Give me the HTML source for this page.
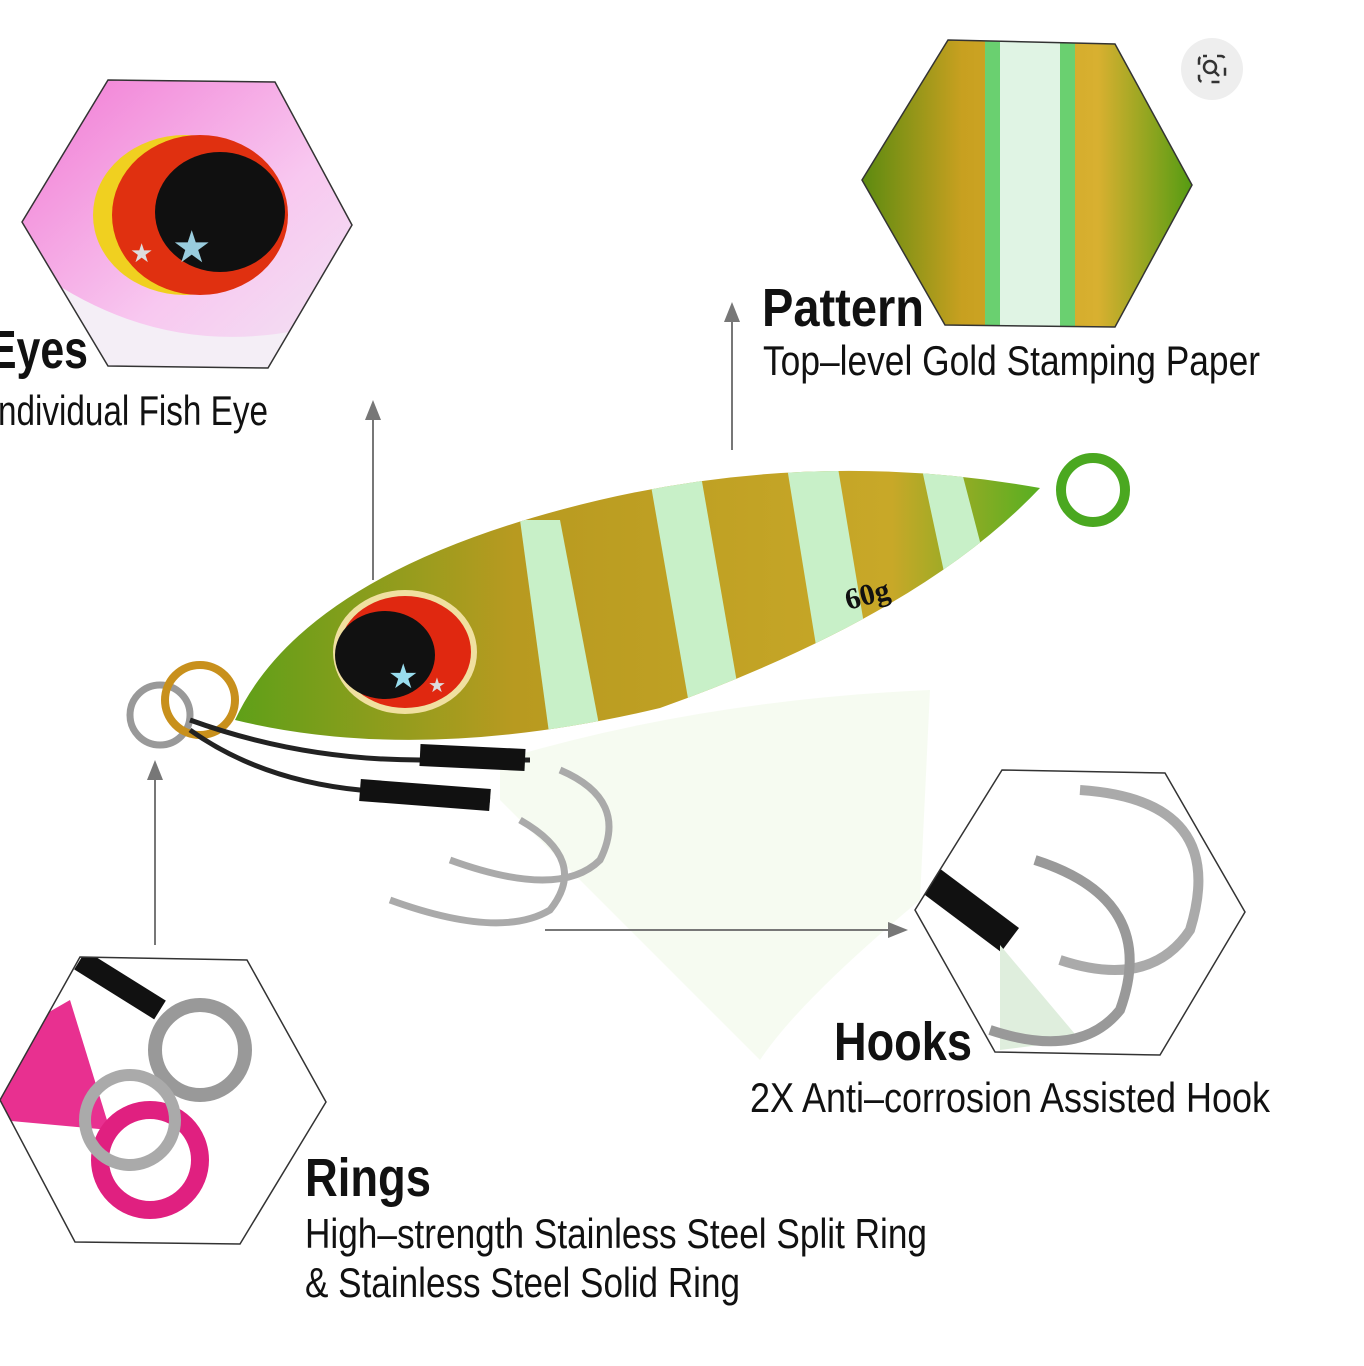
<!DOCTYPE html>
<html><head><meta charset="utf-8"><style>
html,body{margin:0;padding:0;background:#fff;}
svg{display:block;}
text{font-family:"Liberation Sans",sans-serif;fill:#111;}
</style></head><body>
<svg width="1364" height="1366" viewBox="0 0 1364 1366" xmlns="http://www.w3.org/2000/svg">
<defs>
<linearGradient id="gold" x1="0" y1="0" x2="1" y2="0">
<stop offset="0" stop-color="#5a8a10"/><stop offset="0.3" stop-color="#c8a020"/><stop offset="0.7" stop-color="#d8b030"/><stop offset="1" stop-color="#4a9a10"/></linearGradient>
<linearGradient id="body" x1="0" y1="0" x2="1" y2="0">
<stop offset="0" stop-color="#5aa018"/><stop offset="0.35" stop-color="#b89a20"/><stop offset="0.8" stop-color="#c8a828"/><stop offset="1" stop-color="#48b020"/></linearGradient>
<linearGradient id="pink" x1="0" y1="0" x2="1" y2="1">
<stop offset="0" stop-color="#f070d0"/><stop offset="0.6" stop-color="#f8c8f0"/><stop offset="1" stop-color="#f0e8f4"/></linearGradient>
<clipPath id="c1"><polygon points="108,80 275,82 352,225 268,368 108,366 22,222"/></clipPath>
<clipPath id="c2"><polygon points="948,40 1115,44 1192,185 1115,327 945,325 862,180"/></clipPath>
<clipPath id="c3"><polygon points="1002,770 1165,773 1245,912 1160,1055 995,1052 915,910"/></clipPath>
<clipPath id="c4"><polygon points="80,957 247,960 326,1102 240,1244 75,1242 0,1100"/></clipPath>
<clipPath id="cb"><path d="M235 720 Q300 580 560 510 Q800 445 1040 488 Q920 615 660 708 Q420 765 235 720Z"/></clipPath>
<marker id="ah" markerWidth="10" markerHeight="10" refX="5" refY="5" orient="auto"><path d="M0,1 L10,5 L0,9 Z" fill="#777"/></marker>
</defs>

<g clip-path="url(#c1)">
<rect x="0" y="60" width="360" height="320" fill="url(#pink)"/>
<path d="M22 260 Q150 360 300 330 L352 370 L0 370Z" fill="#f4eef6"/>
<ellipse cx="185" cy="215" rx="92" ry="80" fill="#f0d020"/>
<ellipse cx="200" cy="215" rx="88" ry="80" fill="#e03010"/>
<ellipse cx="220" cy="212" rx="65" ry="60" fill="#101010"/>
<text x="172" y="262" font-size="44" style="fill:#9cd">★</text>
<text x="130" y="262" font-size="26" style="fill:#ddd">★</text>
</g>
<polygon points="108,80 275,82 352,225 268,368 108,366 22,222" fill="none" stroke="#333" stroke-width="1.5"/>

<g clip-path="url(#c2)">
<rect x="860" y="30" width="340" height="300" fill="url(#gold)"/>
<rect x="985" y="30" width="90" height="300" fill="#6ad070"/>
<rect x="1000" y="30" width="60" height="300" fill="#e0f4e4"/>
</g>
<polygon points="948,40 1115,44 1192,185 1115,327 945,325 862,180" fill="none" stroke="#333" stroke-width="1.5"/>

<g clip-path="url(#c3)">
<rect x="900" y="760" width="360" height="300" fill="#fff"/>
<path d="M930 880 L1010 940" stroke="#111" stroke-width="30"/>
<path d="M1000 945 L1080 1040 L1000 1050Z" fill="#dfeedd"/>
<path d="M1080 790 Q1230 800 1190 930 Q1150 990 1060 960" fill="none" stroke="#aaa" stroke-width="10"/>
<path d="M1035 860 Q1160 900 1120 1010 Q1080 1060 990 1030" fill="none" stroke="#999" stroke-width="10"/>
</g>
<polygon points="1002,770 1165,773 1245,912 1160,1055 995,1052 915,910" fill="none" stroke="#333" stroke-width="1.5"/>

<g clip-path="url(#c4)">
<rect x="0" y="950" width="330" height="300" fill="#fff"/>
<path d="M0 1040 L70 1000 L110 1130 L0 1120Z" fill="#e83090"/>
<path d="M80 960 L160 1010" stroke="#111" stroke-width="22"/>
<circle cx="200" cy="1050" r="45" fill="none" stroke="#999" stroke-width="14"/>
<circle cx="150" cy="1160" r="50" fill="none" stroke="#e02080" stroke-width="18"/>
<circle cx="130" cy="1120" r="45" fill="none" stroke="#aaa" stroke-width="12"/>
</g>
<polygon points="80,957 247,960 326,1102 240,1244 75,1242 0,1100" fill="none" stroke="#333" stroke-width="1.5"/>

<circle cx="1212" cy="69" r="31" fill="#eee"/>
<rect x="1199" y="56" width="26" height="26" rx="4" fill="none" stroke="#333" stroke-width="2.5" stroke-dasharray="8 10" stroke-dashoffset="4"/>
<circle cx="1210" cy="67" r="6" fill="none" stroke="#333" stroke-width="2.5"/>
<line x1="1214" y1="71" x2="1219" y2="76" stroke="#333" stroke-width="2.5"/>

<path d="M500 760 Q700 700 930 690 L920 900 Q800 1000 760 1060 Q600 900 500 800Z" fill="#eef8e6" opacity="0.55"/>

<g clip-path="url(#cb)">
<rect x="220" y="430" width="840" height="340" fill="url(#body)"/>
<path d="M520 520 L560 520 L600 730 L550 740Z" fill="#c8f0c8"/>
<path d="M650 480 L700 470 L740 700 L690 710Z" fill="#c8f0c8"/>
<path d="M785 455 L835 450 L870 660 L820 670Z" fill="#c8f0c8"/>
<path d="M920 460 L960 465 L990 580 L950 600Z" fill="#c8f0c8"/>
</g>
<circle cx="1093" cy="490" r="32" fill="none" stroke="#4aa820" stroke-width="10"/>
<ellipse cx="405" cy="652" rx="72" ry="62" fill="#f0e0a0"/>
<ellipse cx="405" cy="652" rx="66" ry="56" fill="#e02810"/>
<ellipse cx="385" cy="655" rx="50" ry="44" fill="#111"/>
<text x="388" y="688" font-size="34" style="fill:#9de">★</text>
<text x="428" y="692" font-size="20" style="fill:#ddd">★</text>
<text x="848" y="610" font-size="30" font-weight="bold" transform="rotate(-15 848 610)" style="font-family:'Liberation Serif',serif">60g</text>
<circle cx="160" cy="715" r="30" fill="none" stroke="#999" stroke-width="7"/>
<circle cx="200" cy="700" r="35" fill="none" stroke="#c8901c" stroke-width="8"/>
<path d="M190 720 Q300 760 420 760 L530 760" stroke="#222" stroke-width="5" fill="none"/>
<path d="M190 730 Q260 780 360 790 L490 800" stroke="#222" stroke-width="5" fill="none"/>
<line x1="420" y1="755" x2="525" y2="760" stroke="#111" stroke-width="22"/>
<line x1="360" y1="790" x2="490" y2="800" stroke="#111" stroke-width="22"/>
<path d="M560 770 Q630 800 600 860 Q560 900 450 860" fill="none" stroke="#aaa" stroke-width="7"/>
<path d="M520 820 Q590 860 550 910 Q500 940 390 900" fill="none" stroke="#aaa" stroke-width="7"/>

<g stroke="#777" stroke-width="2">
<line x1="373" y1="580" x2="373" y2="410" marker-end="url(#ah)"/>
<line x1="732" y1="450" x2="732" y2="312" marker-end="url(#ah)"/>
<line x1="155" y1="945" x2="155" y2="770" marker-end="url(#ah)"/>
<line x1="545" y1="930" x2="898" y2="930" marker-end="url(#ah)"/>
</g>

<text x="-12" y="368" font-size="54" font-weight="bold" textLength="100" lengthAdjust="spacingAndGlyphs">Eyes</text>
<text x="-2" y="425" font-size="42" textLength="270" lengthAdjust="spacingAndGlyphs">ndividual Fish Eye</text>
<text x="762" y="326" font-size="54" font-weight="bold" textLength="162" lengthAdjust="spacingAndGlyphs">Pattern</text>
<text x="763" y="375" font-size="42" textLength="497" lengthAdjust="spacingAndGlyphs">Top–level Gold Stamping Paper</text>
<text x="834" y="1060" font-size="54" font-weight="bold" textLength="138" lengthAdjust="spacingAndGlyphs">Hooks</text>
<text x="750" y="1112" font-size="42" textLength="520" lengthAdjust="spacingAndGlyphs">2X Anti–corrosion Assisted Hook</text>
<text x="305" y="1196" font-size="54" font-weight="bold" textLength="126" lengthAdjust="spacingAndGlyphs">Rings</text>
<text x="305" y="1248" font-size="42" textLength="622" lengthAdjust="spacingAndGlyphs">High–strength Stainless Steel Split Ring</text>
<text x="305" y="1297" font-size="42" textLength="435" lengthAdjust="spacingAndGlyphs">&amp; Stainless Steel Solid Ring</text>
</svg>
</body></html>
